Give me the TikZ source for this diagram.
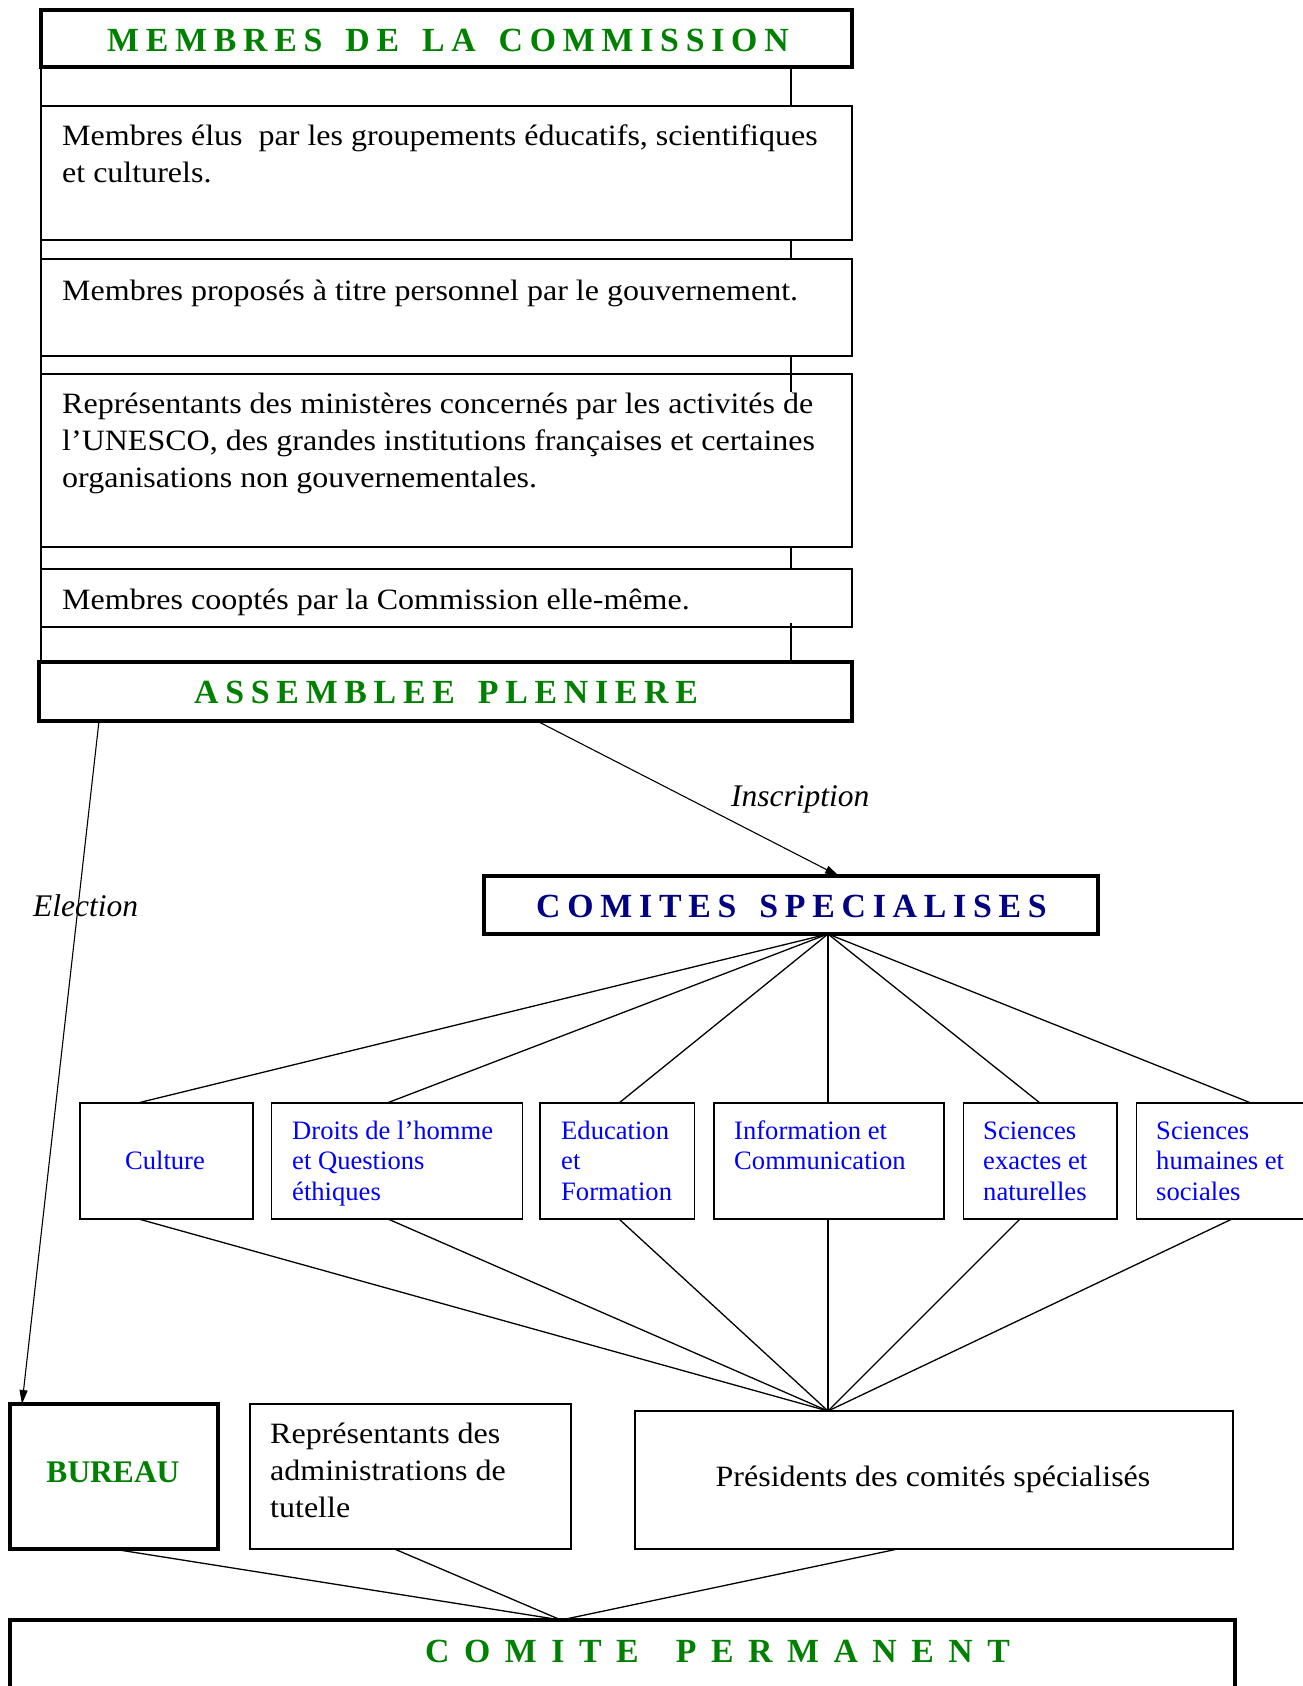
\documentclass[tikz,border=0pt]{standalone}
\usepackage{fontspec}
\setmainfont{Liberation Serif}
\newfontfamily\bodyfont[FakeStretch=1.085]{Liberation Serif}
\newfontfamily\ttlfont[LetterSpace=20]{Liberation Serif}
\newfontfamily\permfont[LetterSpace=43]{Liberation Serif}
\usetikzlibrary{arrows.meta,calc}
\definecolor{tgreen}{RGB}{0,128,0}
\definecolor{tnavy}{RGB}{0,0,128}
\definecolor{tblue}{RGB}{0,0,255}
\tikzset{
  box/.style={draw, line width=1.3pt, rectangle, inner sep=0pt, outer sep=0pt},
  thickbox/.style={box, line width=3.3pt},
  body/.style={font=\bodyfont\fontsize{29.5}{37}\selectfont, inner sep=0pt, anchor=base west, align=left},
  cat/.style={font=\fontsize{26.6}{30.6}\selectfont, text=tblue, inner sep=0pt, anchor=base west, align=left},
  ttl/.style={font=\fontsize{33.8}{40}\selectfont\ttlfont\bfseries, inner sep=0pt, anchor=base west},
  perm/.style={font=\fontsize{33.8}{40}\selectfont\permfont\bfseries, inner sep=0pt, anchor=base west},
  lab/.style={font=\fontsize{31.5}{36}\selectfont\itshape, inner sep=0pt, anchor=base west},
  link/.style={line width=1.3pt},
  arr/.style={line width=1.1pt, -{Triangle[length=14pt,width=8pt]}},
}
\newcommand\mybox[6]{\node[#6, minimum width={#4pt-#2pt}, minimum height={#5pt-#3pt}, anchor=north west] (#1) at (#2,#3) {};}
\newcommand\wsp{\hspace{0.68em}}
\begin{document}
\begin{tikzpicture}[x=1pt,y=-1pt]
\clip (0,0) rectangle (1303,1686);
\fill[white] (0,0) rectangle (1303,1686);
% upper column
\mybox{bm}{41}{10}{852}{67}{thickbox}
\mybox{b1}{41}{106}{852}{240}{box}
\mybox{b2}{41}{259}{852}{356}{box}
\mybox{b3}{41}{374}{852}{547}{box}
\mybox{b4}{41}{569}{852}{627}{box}
\mybox{ba}{39}{662}{852}{721}{thickbox}
\draw[link] (bm.south west) -- (bm.south west |- ba.north);
\draw[link] (bm.south -| 791,0) -- (b1.north -| 791,0);
\draw[link] (b1.south -| 791,0) -- (b2.north -| 791,0);
\draw[link] (b2.south -| 791,0) -- (791,392);
\draw[link] (b3.south -| 791,0) -- (b4.north -| 791,0);
\draw[link] (791,623) -- (ba.north -| 791,0);
\node[ttl, text=tgreen] (t1) at (107,51.7) {MEMBRES\wsp DE\wsp LA\wsp COMMISSION};
\node[body] (m1) at (62,182.6) {Membres élus~ par les groupements éducatifs, scientifiques\\et culturels.};
\node[body] (m2) at (62,300) {Membres proposés à titre personnel par le gouvernement.};
\node[body] (m3) at (62,487.7) {Représentants des ministères concernés par les activités de\\l’UNESCO, des grandes institutions françaises et certaines\\organisations non gouvernementales.};
\node[body] (m4) at (62,609.3) {Membres cooptés par la Commission elle-même.};
\node[ttl, text=tgreen] (t2) at (194,703.3) {ASSEMBLEE\wsp PLENIERE};
% comites
\mybox{cs}{484}{876}{1098}{934}{thickbox}
\node[ttl, text=tnavy] (t3) at (536,917.7) {COMITES\wsp SPECIALISES};
\draw[arr] (ba.south -| 537,0) -- (cs.north -| 839,0);
\node[lab] (li) at (731,806.7) {Inscription};
% categories
\mybox{c1}{80}{1103}{253}{1219}{box}
\mybox{c2}{271.5}{1103}{522.5}{1219}{box}
\mybox{c3}{540}{1103}{694.5}{1219}{box}
\mybox{c4}{714}{1103}{944}{1219}{box}
\mybox{c5}{963.5}{1103}{1117}{1219}{box}
\mybox{c6}{1136.5}{1103}{1330}{1219}{box}
\node[cat, anchor=base] (k1) at (165,1169.3) {Culture};
\node[cat] (k2) at (292,1200.5) {Droits de l’homme\\et Questions\\éthiques};
\node[cat] (k3) at (561,1200.5) {Education\\et\\Formation};
\node[cat] (k4) at (734,1169.9) {Information et\\Communication};
\node[cat] (k5) at (983,1200.5) {Sciences\\exactes et\\naturelles};
\node[cat] (k6) at (1156,1200.5) {Sciences\\humaines et\\sociales};
\coordinate (fa) at (828,934);
% lower
\mybox{bu}{10}{1404}{218}{1549}{thickbox}
\mybox{rp}{250}{1404}{571}{1549}{box}
\mybox{pr}{635}{1411}{1233}{1549}{box}
\mybox{cp}{10}{1620}{1235}{1720}{thickbox}
\coordinate (pf) at (pr.north -| 828,0);
\coordinate (cpt) at (cp.north -| 561,0);
\foreach \n/\xa/\xb in {1/137.6/138.7, 2/387/388, 3/619/619, 4/828/828, 5/1040/1020, 6/1251/1232}{
  \draw[link] (fa) -- (c\n.north -| \xa,0);
  \draw[link] (c\n.south -| \xb,0) -- (pf);
}
\node[font=\fontsize{31.5}{36}\selectfont\bfseries, text=tgreen, inner sep=0pt, anchor=base] (bt) at (113,1482.7) {BUREAU};
\node[body] (rt) at (270,1517.3) {Représentants des\\administrations de\\tutelle};
\node[body, anchor=base] (ptx) at (933,1486.7) {Présidents des comités spécialisés};
\draw[link] (bu.south -| 113,0) -- (cpt);
\draw[link] (rp.south -| 394.5,0) -- (cpt);
\draw[link] (pr.south -| 897.7,0) -- (cpt);
\node[perm, text=tgreen] (t4) at (425,1662.7) {COMITE\hspace{1.1em}PERMANENT};
% election
\draw[arr] (ba.south -| 99,0) -- (bu.north -| 22,0);
\node[lab] (le) at (33,916) {Election};
\end{tikzpicture}
\end{document}
